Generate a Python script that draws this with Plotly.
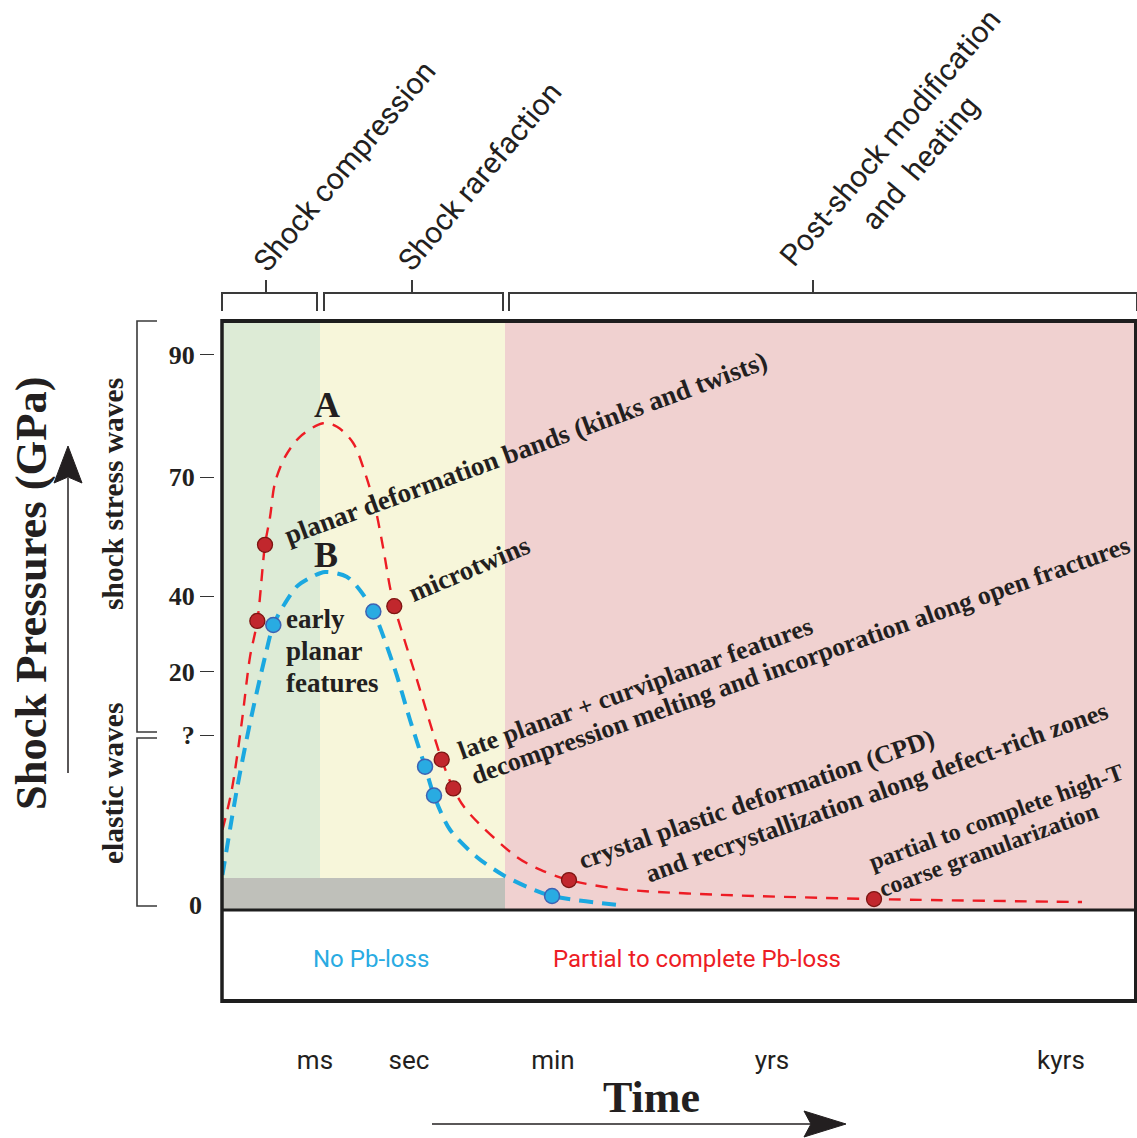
import plotly.graph_objects as go

W, H = 1137, 1138

# ---- data (schematic time 0-100 across the panel, schematic pressure scale) ----
curve_a_time = [0.05, 1.06, 2.15, 3.06, 3.86, 4.70, 5.25, 5.79, 6.89, 8.52, 11.04, 12.57,
                14.32, 15.63, 16.72, 17.60, 18.36, 18.83, 21.31, 24.01, 25.28, 26.74, 32.21,
                34.82, 37.92, 43.5, 52.24, 71.26, 93.99]
curve_a_press = [13.6, 20.3, 31.7, 42.9, 49.0, 61.9, 66.6, 72.4, 76.8, 80.2, 82.5, 81.9,
                 79.2, 74.1, 68.3, 61.5, 54.7, 51.5, 39.0, 25.5, 20.6, 16.9, 9.0,
                 6.8, 5.08, 3.56, 2.71, 1.86, 1.36]

curve_b_time = [0.05, 1.61, 3.06, 4.70, 5.61, 6.89, 8.16, 9.62, 11.26, 13.63, 15.08, 16.54,
                18.91, 20.55, 22.19, 23.17, 24.92, 27.84, 30.71, 33.30, 36.07, 43.28]
curve_b_press = [5.93, 20.3, 31.7, 42.9, 48.3, 52.0, 54.8, 56.3, 57.3, 56.5, 54.2, 50.6,
                 40.7, 32.2, 24.3, 19.4, 13.6, 9.0, 5.93, 3.95, 2.37, 0.85]

stage_a_time = [3.86, 4.70, 18.83, 24.01, 25.28, 37.92, 71.26]
stage_a_press = [49.0, 61.9, 51.5, 25.5, 20.6, 5.08, 1.86]

stage_b_time = [5.61, 16.54, 22.19, 23.17, 36.07]
stage_b_press = [48.3, 50.6, 24.3, 19.4, 2.37]

pressure_ticks = ["90", "70", "40", "20", "?"]
pressure_tick_pos = [94.07, 73.39, 53.22, 40.34, 29.66]

time_labels = ["ms", "sec", "min", "yrs", "kyrs"]
time_label_pos = [10.16, 20.44, 36.17, 60.11, 91.69]

# stage periods along the time axis
period_edges = [0, 10.71, 30.93, 100]
period_colors = ["#ddebd6", "#f7f6da", "#f0d1d0"]
quench_band_top = 5.42

SERIF = "Liberation Serif, Times New Roman, serif"
SANS = "Roboto, Arial, sans-serif"
INK = "#231f20"
RED = "#ed1c24"
BLUE = "#1ba8e0"


def px(x):
    return x / W


def py(y):
    return 1 - y / H


fig = go.Figure()

fig.add_trace(go.Scatter(
    x=curve_a_time, y=curve_a_press, mode="lines",
    line=dict(color=RED, width=2.4, dash="12px,9px", shape="spline", smoothing=0.9),
    hoverinfo="skip", showlegend=False))
fig.add_trace(go.Scatter(
    x=curve_b_time, y=curve_b_press, mode="lines",
    line=dict(color=BLUE, width=4, dash="14px,9px", shape="spline", smoothing=0.8),
    hoverinfo="skip", showlegend=False))
fig.add_trace(go.Scatter(
    x=stage_a_time, y=stage_a_press, mode="markers",
    marker=dict(size=15, color="#c1272d", line=dict(color="#7d1512", width=1.3)),
    showlegend=False))
fig.add_trace(go.Scatter(
    x=stage_b_time, y=stage_b_press, mode="markers",
    marker=dict(size=15, color="#29abe2", line=dict(color="#3d62b3", width=1.5)),
    showlegend=False))

shapes = []
# stage backgrounds
for x0, x1, c in zip(period_edges[:-1], period_edges[1:], period_colors):
    shapes.append(dict(type="rect", xref="x", yref="y", x0=x0, x1=x1, y0=0, y1=100,
                       fillcolor=c, line=dict(width=0), layer="below"))
shapes.append(dict(type="rect", xref="x", yref="y", x0=0, x1=period_edges[2], y0=0,
                   y1=quench_band_top, fillcolor="#bfc0ba", line=dict(width=0), layer="below"))

# frame
FR = "#1e1e1e"
shapes.append(dict(type="line", xref="paper", yref="paper", x0=px(222), x1=px(1137),
                   y0=py(321), y1=py(321), line=dict(color=FR, width=4)))
shapes.append(dict(type="line", xref="paper", yref="paper", x0=px(222), x1=px(1137),
                   y0=py(910), y1=py(910), line=dict(color=FR, width=3)))
shapes.append(dict(type="line", xref="paper", yref="paper", x0=px(222), x1=px(1137),
                   y0=py(1001), y1=py(1001), line=dict(color=FR, width=4)))
shapes.append(dict(type="line", xref="paper", yref="paper", x0=px(222), x1=px(222),
                   y0=py(319), y1=py(1003), line=dict(color=FR, width=3.5)))
shapes.append(dict(type="line", xref="paper", yref="paper", x0=px(1135.5), x1=px(1135.5),
                   y0=py(319), y1=py(1003), line=dict(color=FR, width=3)))

# top brackets for the three stages
BR = "#3a3a3a"
brackets = [(222, 317, 266), (324, 503, 412), (509, 1137, 813)]
for a, b, mid in brackets:
    path = (f"M {px(a)} {py(311)} L {px(a)} {py(293)} L {px(b)} {py(293)} "
            f"L {px(b)} {py(311)}")
    shapes.append(dict(type="path", xref="paper", yref="paper", path=path,
                       line=dict(color=BR, width=2)))
    shapes.append(dict(type="line", xref="paper", yref="paper", x0=px(mid), x1=px(mid),
                       y0=py(293), y1=py(280), line=dict(color=BR, width=2)))

# left brackets
for top, bot in [(321, 732), (738, 906)]:
    path = (f"M {px(157)} {py(top)} L {px(137)} {py(top)} L {px(137)} {py(bot)} "
            f"L {px(157)} {py(bot)}")
    shapes.append(dict(type="path", xref="paper", yref="paper", path=path,
                       line=dict(color=BR, width=1.6)))

# pressure arrow
shapes.append(dict(type="line", xref="paper", yref="paper", x0=px(68), x1=px(68),
                   y0=py(773), y1=py(478), line=dict(color=INK, width=1.5)))
shapes.append(dict(type="path", xref="paper", yref="paper",
                   path=f"M {px(68)} {py(446)} L {px(82)} {py(483)} L {px(68)} {py(477)} "
                        f"L {px(54)} {py(483)} Z",
                   fillcolor=INK, line=dict(color=INK, width=1)))
# time arrow
shapes.append(dict(type="line", xref="paper", yref="paper", x0=px(432), x1=px(812),
                   y0=py(1124), y1=py(1124), line=dict(color=INK, width=1.5)))
shapes.append(dict(type="path", xref="paper", yref="paper",
                   path=f"M {px(846)} {py(1124)} L {px(804)} {py(1111)} L {px(811)} {py(1124)} "
                        f"L {px(804)} {py(1137)} Z",
                   fillcolor=INK, line=dict(color=INK, width=1)))

ann = []


def label(text, x, y, size, family=SERIF, color=INK, angle=0, bold=True,
          xanchor="center", yanchor="middle", align="center"):
    t = f"<b>{text}</b>" if bold else text
    ann.append(dict(text=t, x=px(x), y=py(y), xref="paper", yref="paper",
                    showarrow=False, textangle=angle, xanchor=xanchor, yanchor=yanchor,
                    align=align, font=dict(family=family, size=size, color=color)))


label("A", 327, 405, 36)
label("B", 326, 555, 36)
label("planar deformation bands (kinks and twists)", 526, 448, 27, angle=-20.2)
label("microtwins", 469, 569, 27, angle=-23)
label("early", 284, 619, 27, xanchor="left")
label("planar", 284, 651, 27, xanchor="left")
label("features", 284, 683, 27, xanchor="left")
label("late planar + curviplanar features", 635, 688, 26, angle=-19.8)
label("decompression melting and incorporation along open fractures", 800, 660, 26, angle=-19.5)
label("crystal plastic deformation (CPD)", 756, 799, 26, angle=-19.3)
label("and recrystallization along defect-rich zones", 876, 792, 26, angle=-19.7)
label("partial to complete high-T", 996, 817, 24, angle=-20)
label("coarse granularization", 988, 850, 24, angle=-20.2)

label("shock stress waves", 113, 494, 29.5, angle=-90)
label("elastic waves", 113, 784, 29.5, angle=-90)
label("Shock Pressures (GPa)", 31, 594, 44.5, angle=-90)
label("0", 195, 905, 26)
label("Time", 651, 1097, 44)

label("No Pb-loss", 371, 959, 24, family=SANS, color="#29abe2", bold=False)
label("Partial to complete Pb-loss", 697, 959, 24, family=SANS, color=RED, bold=False)

label("Shock compression", 345, 166, 30, family=SANS, angle=-50, bold=False)
label("Shock rarefaction", 479, 176, 30, family=SANS, angle=-50, bold=False)
label("Post-shock modification<br>and  heating", 905, 150, 30, family=SANS, angle=-50,
      bold=False)

y_lo = 100 - (1002 - 320) / 5.9

fig.update_layout(
    width=W, height=H,
    margin=dict(l=0, r=0, t=0, b=0),
    paper_bgcolor="white", plot_bgcolor="white",
    shapes=shapes, annotations=ann,
    xaxis=dict(domain=[px(222), 1], range=[0, 100], showgrid=False, zeroline=False,
               showline=False, ticks="", tickvals=time_label_pos, ticktext=time_labels,
               tickfont=dict(family=SANS, size=26, color=INK), ticklabelstandoff=40,
               fixedrange=True),
    yaxis=dict(domain=[py(1002), py(320)], range=[y_lo, 100], showgrid=False,
               zeroline=False, showline=False, anchor="free", position=px(214),
               ticks="outside", ticklen=14, tickwidth=1.3, tickcolor="#333333",
               tickvals=pressure_tick_pos, ticktext=pressure_ticks,
               tickfont=dict(family=SERIF, size=26, color=INK, weight="bold"),
               fixedrange=True),
)

fig.write_html("out.html")
